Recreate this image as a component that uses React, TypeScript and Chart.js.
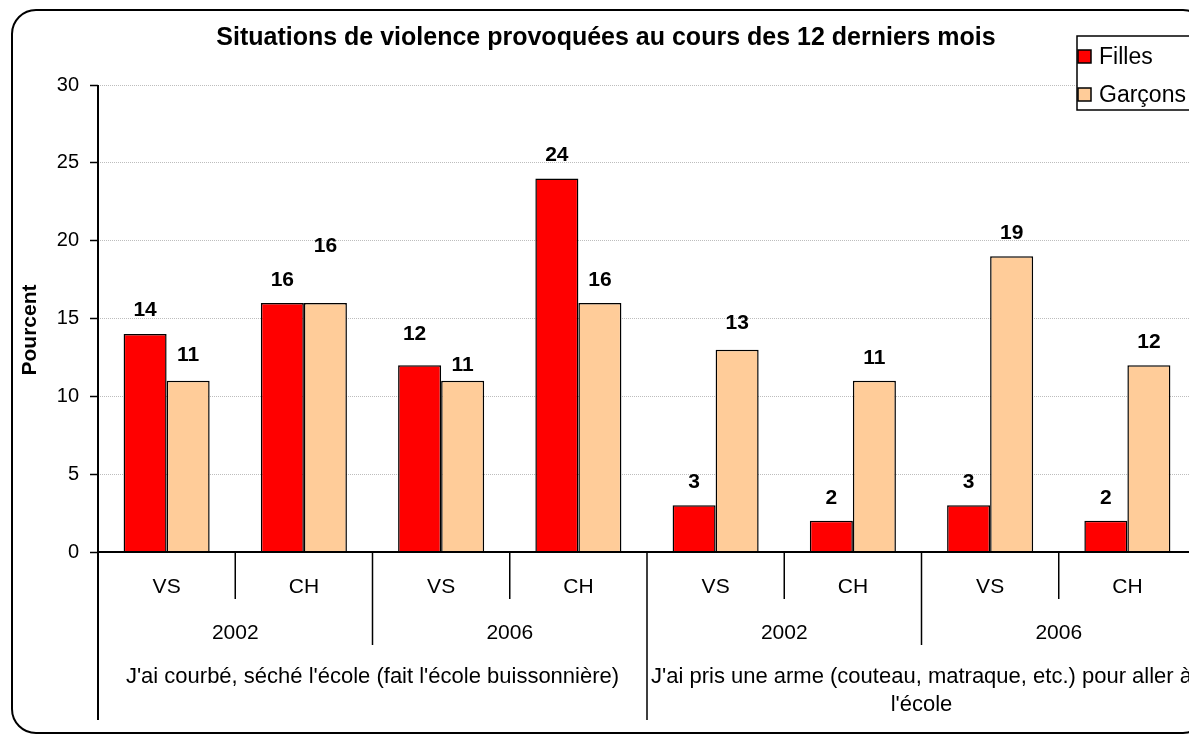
import React, { useEffect, useRef } from 'react';
import { Chart, registerables } from 'chart.js';

Chart.register(...registerables);

const FONT = '"Liberation Sans", Arial, Helvetica, sans-serif';

const chartTitle = 'Situations de violence provoquées au cours des 12 derniers mois';
const yAxisTitle = 'Pourcent';
const seriesNames = ['Filles', 'Garçons'];
const seriesColors = ['#FF0000', '#FFCC99'];

const categories = ['VS', 'CH', 'VS', 'CH', 'VS', 'CH', 'VS', 'CH'];
const years = ['2002', '2006', '2002', '2006'];
const topics = [
  "J'ai courbé, séché l'école (fait l'école buissonnière)",
  "J'ai pris une arme (couteau, matraque, etc.) pour aller à l'école",
];

const filles = [14, 16, 12, 24, 3, 2, 3, 2];
const garcons = [11, 16, 11, 16, 13, 11, 19, 12];

const yTicks = [0, 5, 10, 15, 20, 25, 30];

// manual nudges of some value labels (pixels), as in the source chart
const liftFilles = [1, 0, 8, 0, 0, 0, 0, 0];
const liftGarcons = [3, 34, -7, 0, 3, 0, 0, 0];
const shiftFilles = [0, 0, -5, 0, 0, 0, 0, 0];

function wrapText(ctx: CanvasRenderingContext2D, text: string, maxW: number): string[] {
  const words = text.split(' ');
  const lines: string[] = [];
  let cur = '';
  for (const w of words) {
    const test = cur ? cur + ' ' + w : w;
    if (ctx.measureText(test).width > maxW && cur) {
      lines.push(cur);
      cur = w;
    } else {
      cur = test;
    }
  }
  if (cur) lines.push(cur);
  return lines;
}

const decorPlugin = {
  id: 'decor',
  afterDatasetsDraw(chart: any) {
    const ctx: CanvasRenderingContext2D = chart.ctx;
    ctx.save();
    ctx.font = `bold 21px ${FONT}`;
    ctx.fillStyle = '#000';
    ctx.textAlign = 'center';
    ctx.textBaseline = 'middle';
    const lifts = [liftFilles, liftGarcons];
    const shifts = [shiftFilles, null];
    chart.data.datasets.forEach((ds: any, di: number) => {
      const meta = chart.getDatasetMeta(di);
      meta.data.forEach((bar: any, j: number) => {
        const v = ds.data[j];
        const dx = shifts[di] ? (shifts[di] as number[])[j] : 0;
        ctx.fillText(String(v), bar.x + dx, bar.y - 23 - lifts[di][j]);
      });
    });
    ctx.restore();
  },
  afterDraw(chart: any) {
    const ctx: CanvasRenderingContext2D = chart.ctx;
    const ca = chart.chartArea;
    const n = categories.length;
    const w = (ca.right - ca.left) / n;
    const bx = (i: number) => ca.left + i * w;
    ctx.save();

    // axes lines
    ctx.strokeStyle = '#000';
    ctx.lineWidth = 2;
    ctx.beginPath();
    ctx.moveTo(ca.left, ca.top);
    ctx.lineTo(ca.left, 720);
    ctx.moveTo(ca.left - 1, ca.bottom);
    ctx.lineTo(ca.right + 20, ca.bottom);
    ctx.stroke();

    // separators
    ctx.lineWidth = 1.5;
    ctx.beginPath();
    for (let i = 1; i <= n; i++) {
      let end = ca.bottom + 47;
      if (i % 4 === 0) end = 720;
      else if (i % 2 === 0) end = ca.bottom + 93;
      ctx.moveTo(bx(i), ca.bottom);
      ctx.lineTo(bx(i), end);
    }
    ctx.stroke();

    // category labels
    ctx.fillStyle = '#000';
    ctx.textAlign = 'center';
    ctx.textBaseline = 'alphabetic';
    ctx.font = `21px ${FONT}`;
    categories.forEach((c, i) => {
      ctx.fillText(c, bx(i) + w / 2, ca.bottom + 41);
    });
    years.forEach((y, i) => {
      ctx.fillText(y, bx(i * 2) + w, ca.bottom + 87);
    });
    ctx.font = `22px ${FONT}`;
    topics.forEach((t, i) => {
      const cx = bx(i * 4) + 2 * w;
      const lines = wrapText(ctx, t, 4 * w - 4);
      lines.forEach((ln, k) => {
        ctx.fillText(ln, cx, ca.bottom + 131 + k * 28);
      });
    });

    // y axis title
    ctx.save();
    ctx.translate(30, 330);
    ctx.rotate(-Math.PI / 2);
    ctx.font = `bold 21px ${FONT}`;
    ctx.textAlign = 'center';
    ctx.textBaseline = 'middle';
    ctx.fillText(yAxisTitle, 0, 0);
    ctx.restore();

    // chart title
    ctx.font = `bold 25px ${FONT}`;
    ctx.textAlign = 'center';
    ctx.textBaseline = 'alphabetic';
    ctx.fillText(chartTitle, 606, 45);

    // legend
    ctx.fillStyle = '#fff';
    ctx.fillRect(1077, 36, 150, 74);
    ctx.strokeStyle = '#000';
    ctx.lineWidth = 1.5;
    ctx.strokeRect(1077, 36, 150, 74);
    const ly = [57, 95];
    ctx.font = `23px ${FONT}`;
    ctx.textAlign = 'left';
    ctx.textBaseline = 'middle';
    seriesNames.forEach((name, i) => {
      ctx.fillStyle = seriesColors[i];
      ctx.fillRect(1078, ly[i] - 7, 13, 13);
      ctx.lineWidth = 1.5;
      ctx.strokeStyle = '#000';
      ctx.strokeRect(1078, ly[i] - 7, 13, 13);
      ctx.fillStyle = '#000';
      ctx.fillText(name, 1099, ly[i] + 1);
    });

    // outer frame
    ctx.lineWidth = 2;
    ctx.strokeStyle = '#000';
    ctx.beginPath();
    ctx.roundRect(12, 10, 1195, 723, 24);
    ctx.stroke();

    ctx.restore();
  },
};

export default function App() {
  const ref = useRef<HTMLCanvasElement>(null);

  useEffect(() => {
    if (!ref.current) return;
    const chart = new Chart(ref.current, {
      type: 'bar',
      data: {
        labels: categories,
        datasets: [
          {
            label: seriesNames[0],
            data: filles,
            backgroundColor: seriesColors[0],
            borderColor: '#000',
            borderWidth: 1.5,
            categoryPercentage: 0.627,
            barPercentage: 1,
          },
          {
            label: seriesNames[1],
            data: garcons,
            backgroundColor: seriesColors[1],
            borderColor: '#000',
            borderWidth: 1.5,
            categoryPercentage: 0.627,
            barPercentage: 1,
          },
        ],
      },
      options: {
        responsive: false,
        animation: false,
        devicePixelRatio: 1,
        layout: { padding: { left: 17, top: 85, right: 19, bottom: 0 } },
        plugins: {
          legend: { display: false },
          title: { display: false },
          tooltip: { enabled: false },
        },
        scales: {
          x: {
            ticks: { display: false },
            grid: { display: false },
            border: { display: false },
            afterFit: (s: any) => {
              s.height = 184;
            },
          },
          y: {
            min: 0,
            max: 30,
            afterBuildTicks: (s: any) => {
              s.ticks = yTicks.map((v) => ({ value: v }));
            },
            ticks: {
              color: '#000',
              padding: 11,
              font: { family: FONT, size: 20 },
            },
            grid: {
              color: '#bdbdbd',
              lineWidth: 1,
              tickColor: '#000',
              tickLength: 8,
              tickWidth: 1.5,
              tickBorderDash: [],
            },
            border: { display: false, dash: [1, 1] },
            afterFit: (s: any) => {
              s.width = 81;
            },
          },
        },
      },
      plugins: [decorPlugin],
    });
    return () => chart.destroy();
  }, []);

  return (
    <div
      style={{
        position: 'absolute',
        left: 0,
        top: 0,
        width: 1189,
        height: 736,
        overflow: 'hidden',
        background: '#fff',
      }}
    >
      <canvas ref={ref} width={1215} height={736} style={{ display: 'block' }} />
    </div>
  );
}
